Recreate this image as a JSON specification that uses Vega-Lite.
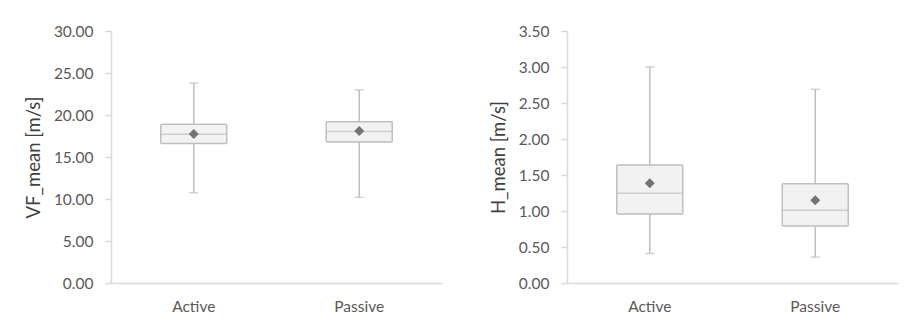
{
  "$schema": "https://vega.github.io/schema/vega-lite/v6.json",
  "padding": {"left": 24, "top": 24, "right": 5, "bottom": 5},
  "background": "white",
  "spacing": 47,
  "datasets": {
    "vf": [
      {"group": "Active", "min": 10.75, "q1": 16.6, "median": 17.7, "q3": 18.9, "max": 23.8, "mean": 17.75},
      {"group": "Passive", "min": 10.2, "q1": 16.8, "median": 18.05, "q3": 19.2, "max": 23.0, "mean": 18.1}
    ],
    "h": [
      {"group": "Active", "min": 0.41, "q1": 0.96, "median": 1.245, "q3": 1.64, "max": 3.0, "mean": 1.385},
      {"group": "Passive", "min": 0.36, "q1": 0.79, "median": 1.01, "q3": 1.38, "max": 2.69, "mean": 1.15}
    ]
  },
  "config": {
    "view": {"stroke": null},
    "font": "Lato",
    "axis": {
      "grid": false,
      "domainColor": "#d9d9d9",
      "domainWidth": 1.5,
      "tickColor": "#d9d9d9",
      "tickWidth": 1.5,
      "labelColor": "#595959",
      "labelFontSize": 15.5,
      "titleColor": "#404040",
      "titleFontSize": 18.5,
      "titleFontWeight": "normal"
    },
    "axisY": {"format": ".2f", "tickSize": 6, "labelPadding": 12, "titlePadding": 10}
  },
  "hconcat": [
    {
      "width": 331,
      "height": 252,
      "data": {"name": "vf"},
      "encoding": {
        "x": {"field": "group", "type": "nominal", "sort": ["Active", "Passive"], "scale": {"paddingInner": 0, "paddingOuter": 0},
              "axis": {"title": null, "labelAngle": 0, "ticks": false, "labelPadding": 16}}
      },
      "layer": [
        {"mark": {"type": "rule", "color": "#bfbfbf", "strokeWidth": 1.5},
         "encoding": {"y": {"field": "min", "type": "quantitative", "scale": {"domain": [0, 30]},
                            "axis": {"values": [0, 5, 10, 15, 20, 25, 30], "title": "VF_mean [m/s]"}},
                      "y2": {"field": "max"}}},
        {"mark": {"type": "tick", "color": "#bfbfbf", "size": 9, "thickness": 1.5}, "encoding": {"y": {"field": "min", "type": "quantitative", "axis": {"values": [0, 5, 10, 15, 20, 25, 30], "title": "VF_mean [m/s]"}}}},
        {"mark": {"type": "tick", "color": "#bfbfbf", "size": 9, "thickness": 1.5}, "encoding": {"y": {"field": "max", "type": "quantitative", "axis": {"values": [0, 5, 10, 15, 20, 25, 30], "title": "VF_mean [m/s]"}}}},
        {"mark": {"type": "bar", "fill": "#f2f2f2", "stroke": "#bfbfbf", "strokeWidth": 1.5, "width": 66, "cornerRadius": 1},
         "encoding": {"y": {"field": "q1", "type": "quantitative", "axis": {"values": [0, 5, 10, 15, 20, 25, 30], "title": "VF_mean [m/s]"}}, "y2": {"field": "q3"}}},
        {"mark": {"type": "tick", "color": "#bfbfbf", "size": 66, "thickness": 1.5}, "encoding": {"y": {"field": "median", "type": "quantitative", "axis": {"values": [0, 5, 10, 15, 20, 25, 30], "title": "VF_mean [m/s]"}}}},
        {"mark": {"type": "point", "shape": "diamond", "filled": true, "size": 100, "color": "#747474", "opacity": 1}, "encoding": {"y": {"field": "mean", "type": "quantitative", "axis": {"values": [0, 5, 10, 15, 20, 25, 30], "title": "VF_mean [m/s]"}}}}
      ]
    },
    {
      "width": 331,
      "height": 252,
      "data": {"name": "h"},
      "encoding": {
        "x": {"field": "group", "type": "nominal", "sort": ["Active", "Passive"], "scale": {"paddingInner": 0, "paddingOuter": 0},
              "axis": {"title": null, "labelAngle": 0, "ticks": false, "labelPadding": 16}}
      },
      "layer": [
        {"mark": {"type": "rule", "color": "#bfbfbf", "strokeWidth": 1.5},
         "encoding": {"y": {"field": "min", "type": "quantitative", "scale": {"domain": [0, 3.5]},
                            "axis": {"values": [0, 0.5, 1, 1.5, 2, 2.5, 3, 3.5], "title": "H_mean [m/s]"}},
                      "y2": {"field": "max"}}},
        {"mark": {"type": "tick", "color": "#bfbfbf", "size": 9, "thickness": 1.5}, "encoding": {"y": {"field": "min", "type": "quantitative", "axis": {"values": [0, 0.5, 1, 1.5, 2, 2.5, 3, 3.5], "title": "H_mean [m/s]"}}}},
        {"mark": {"type": "tick", "color": "#bfbfbf", "size": 9, "thickness": 1.5}, "encoding": {"y": {"field": "max", "type": "quantitative", "axis": {"values": [0, 0.5, 1, 1.5, 2, 2.5, 3, 3.5], "title": "H_mean [m/s]"}}}},
        {"mark": {"type": "bar", "fill": "#f2f2f2", "stroke": "#bfbfbf", "strokeWidth": 1.5, "width": 66, "cornerRadius": 1},
         "encoding": {"y": {"field": "q1", "type": "quantitative", "axis": {"values": [0, 0.5, 1, 1.5, 2, 2.5, 3, 3.5], "title": "H_mean [m/s]"}}, "y2": {"field": "q3"}}},
        {"mark": {"type": "tick", "color": "#bfbfbf", "size": 66, "thickness": 1.5}, "encoding": {"y": {"field": "median", "type": "quantitative", "axis": {"values": [0, 0.5, 1, 1.5, 2, 2.5, 3, 3.5], "title": "H_mean [m/s]"}}}},
        {"mark": {"type": "point", "shape": "diamond", "filled": true, "size": 100, "color": "#747474", "opacity": 1}, "encoding": {"y": {"field": "mean", "type": "quantitative", "axis": {"values": [0, 0.5, 1, 1.5, 2, 2.5, 3, 3.5], "title": "H_mean [m/s]"}}}}
      ]
    }
  ]
}
